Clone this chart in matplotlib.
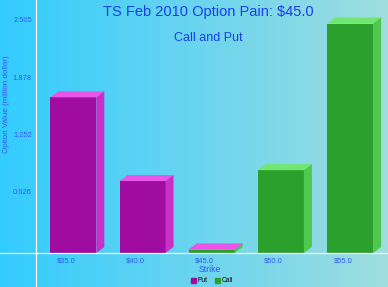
import numpy as np
import matplotlib.pyplot as plt
from matplotlib.patches import Polygon, Patch
from matplotlib.lines import Line2D
from matplotlib.transforms import ScaledTranslation

plt.rcParams['font.family'] = ['Liberation Sans', 'DejaVu Sans']

# data
strikes = ['$35.0', '$40.0', '$45.0', '$50.0', '$55.0']
put_vals = [1.71, 0.79, 0.004, 0.0, 0.0]
call_vals = [0.0, 0.0, 0.035, 0.91, 2.52]
y_ticks = [0.626, 1.252, 1.878, 2.505]
y_tick_labels = ['0.626', '1.252', '1.878', '2.505']

W, H = 388, 287
fig = plt.figure(figsize=(W / 100, H / 100), dpi=100)

# background gradient
bg = fig.add_axes([0, 0, 1, 1], zorder=-10)
c0 = np.array([0x33, 0xCC, 0xFF]) / 255
c1 = np.array([0xA0, 0xDD, 0xDF]) / 255
t = np.linspace(0, 1, 256)[None, :, None]
bg.imshow(c0 + (c1 - c0) * t, aspect='auto', extent=[0, 1, 0, 1])
bg.axis('off')

# plot area: left edge x=36px, baseline y=253px
ax = fig.add_axes([36 / W, (H - 253) / H, (W - 36) / W, 253 / H])
ax.patch.set_alpha(0)
for s in ax.spines.values():
    s.set_visible(False)

px_x = 69.2   # pixels per category
px_y = 91.05  # pixels per unit value
ax.set_xlim(-30 / px_x, (W - 66) / px_x)
ax.set_ylim(0, 253 / px_y)

x = np.arange(len(strikes))
off = 7.3 / px_x
bw = 46 / px_x
dx = 8 / px_x
dy = 6 / px_y

put_c = ('#A00CA0', '#E855E8', '#C830C8')
call_c = ('#2CA02C', '#70E870', '#50C850')


def bar3d(xc, bottom, h, cols):
    if h <= 0:
        return
    x0 = xc + off - bw / 2
    x1 = x0 + bw
    ax.bar(xc + off, h, width=bw, bottom=bottom, color=cols[0], linewidth=0, zorder=2)
    top = bottom + h
    ax.add_patch(Polygon([(x0, top), (x1, top), (x1 + dx, top + dy), (x0 + dx, top + dy)],
                         closed=True, color=cols[1], linewidth=0, zorder=3))
    ax.add_patch(Polygon([(x1, bottom), (x1 + dx, bottom + dy), (x1 + dx, top + dy), (x1, top)],
                         closed=True, color=cols[2], linewidth=0, zorder=3))


for i in x:
    bar3d(i, 0, call_vals[i], call_c)
    bar3d(i, call_vals[i], put_vals[i], put_c)

tick_col = '#2F5CF0'
ax.set_xticks(x)
ax.set_xticklabels(strikes, fontsize=5.4, color=tick_col)
ax.set_yticks(y_ticks)
ax.set_yticklabels(y_tick_labels, fontsize=5.4, color=tick_col)
ax.tick_params(length=0, pad=3)
for lab in ax.get_yticklabels():
    lab.set_transform(lab.get_transform() + ScaledTranslation(0, 5 / 100, fig.dpi_scale_trans))

# white axis lines across the whole figure
fig.add_artist(Line2D([36 / W, 36 / W], [0, 1], color='white', lw=0.9))
fig.add_artist(Line2D([0, 1], [(H - 253) / H, (H - 253) / H], color='white', lw=0.9))

fig.text(208 / W, 1 - 12 / H, 'TS Feb 2010 Option Pain: $45.0', ha='center', va='center',
         fontsize=10.5, color='#1A3FE8')
fig.text(208 / W, 1 - 38 / H, 'Call and Put', ha='center', va='center',
         fontsize=9, color='#1A3FE8')
fig.text(7 / W, 1 - 104 / H, 'Option Value (million dollar)', rotation=90, ha='center',
         va='center', fontsize=5.8, color=tick_col)
fig.text(210 / W, 1 - 270 / H, 'Strike', ha='center', va='center', fontsize=6.2, color=tick_col)

handles = [Patch(color=put_c[0], label='Put'), Patch(color=call_c[0], label='Call')]
fig.legend(handles=handles, loc='center', bbox_to_anchor=(212 / W, 1 - 281 / H), ncol=2,
           frameon=False, fontsize=4.8, handlelength=0.8, handleheight=0.8,
           handletextpad=0.3, columnspacing=1.0, borderpad=0)

fig.savefig('out.png', dpi=100)
